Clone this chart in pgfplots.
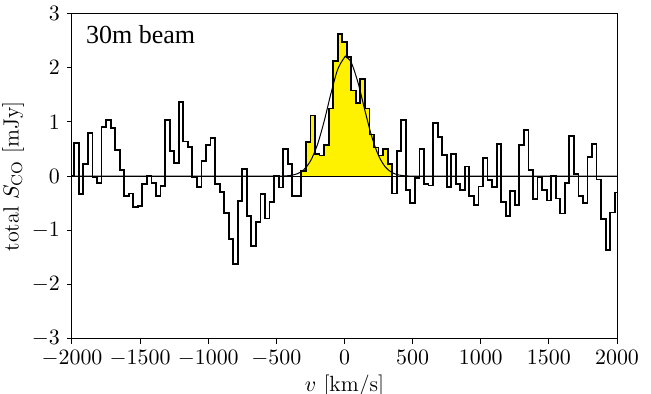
\documentclass[border=0pt]{standalone}
\usepackage{fontspec}
\newfontfamily\timesfont{Liberation Serif}
\usepackage{pgfplots}
\usepackage{pgfplotstable}
\pgfplotsset{compat=1.18}

\pgfplotstableread{
v s
-2000 0.00
-1966.7 0.61
-1933.3 -0.33
-1900 0.22
-1866.7 0.79
-1833.3 -0.02
-1800 -0.12
-1766.7 0.91
-1733.3 1.03
-1700 0.89
-1666.7 0.49
-1633.3 0.11
-1600 -0.37
-1566.7 -0.32
-1533.3 -0.57
-1500 -0.55
-1466.7 -0.15
-1433.3 0.01
-1400 -0.13
-1366.7 -0.37
-1333.3 -0.18
-1300 1.04
-1266.7 0.47
-1233.3 0.25
-1200 1.37
-1166.7 0.64
-1133.3 0.54
-1100 -0.02
-1066.7 -0.20
-1033.3 0.28
-1000 0.57
-966.7 0.71
-933.3 -0.15
-900 -0.29
-866.7 -0.68
-833.3 -1.16
-800 -1.62
-766.7 -0.46
-733.3 0.14
-700 -0.74
-666.7 -1.29
-633.3 -0.84
-600 -0.33
-566.7 -0.78
-533.3 -0.47
-500 0.00
-466.7 -0.21
-433.3 0.50
-400 0.23
-366.7 -0.36
-333.3 -0.37
-300 0.09
-266.7 0.63
-233.3 1.12
-200 0.41
-166.7 0.38
-133.3 0.57
-100 1.25
-66.7 2.13
-33.3 2.63
0 2.48
33.3 2.20
66.7 1.58
100 1.35
133.3 1.80
166.7 1.25
200 0.77
233.3 0.53
266.7 0.38
300 0.50
333.3 0.22
366.7 -0.32
400 0.46
433.3 1.03
466.7 -0.25
500 -0.49
533.3 -0.03
566.7 0.50
600 -0.15
633.3 -0.17
666.7 0.98
700 0.73
733.3 0.39
766.7 -0.20
800 0.41
833.3 -0.15
866.7 -0.25
900 0.18
933.3 -0.36
966.7 -0.53
1000 -0.19
1033.3 0.34
1066.7 -0.07
1100 -0.20
1133.3 0.59
1166.7 -0.47
1200 -0.74
1233.3 -0.28
1266.7 -0.53
1300 0.57
1333.3 0.85
1366.7 0.12
1400 -0.42
1433.3 -0.01
1466.7 -0.25
1500 -0.45
1533.3 0.01
1566.7 -0.41
1600 -0.69
1633.3 -0.12
1666.7 0.74
1700 0.04
1733.3 -0.36
1766.7 -0.50
1800 0.35
1833.3 0.60
1866.7 -0.06
1900 -0.79
1933.3 -1.36
1966.7 -0.67
2000 -0.30
}\spec

\pgfplotstableread{
v s
-316.7 0.09
-300 0.09
-266.7 0.63
-233.3 1.12
-200 0.41
-166.7 0.38
-133.3 0.57
-100 1.25
-66.7 2.13
-33.3 2.63
0 2.48
33.3 2.20
66.7 1.58
100 1.35
133.3 1.80
166.7 1.25
200 0.77
233.3 0.53
266.7 0.38
300 0.50
333.3 0.22
350 0.22
}\fillspec

\pgfplotstableread{
v g
-2000 0
-800 0
-600 0.0001
-500 0.0008
-450 0.0035
-400 0.013
-350 0.042
-300 0.117
-250 0.280
-200 0.572
-150 1.007
-100 1.521
-50 1.971
0 2.193
10 2.200
50 2.095
100 1.718
150 1.210
200 0.731
250 0.379
300 0.169
350 0.065
400 0.021
450 0.006
500 0.0015
600 0.0001
800 0
2000 0
}\gauss

\begin{document}
\begin{tikzpicture}
\begin{axis}[
  width=272.5pt, height=162.6pt, scale only axis,
  xmin=-2000, xmax=2000, ymin=-3, ymax=3,
  xtick={-2000,-1500,...,2000}, ytick={-3,-2,...,3},
  xtick pos=bottom, ytick pos=left,
  tick align=outside, major tick length=2.5pt,
  axis line style={line width=0.5pt},
  every tick/.style={black, line width=0.5pt},
  /pgf/number format/1000 sep={},
  scaled ticks=false,
  ticklabel style={font=\fontsize{11}{13}\selectfont},
  label style={font=\fontsize{11}{13}\selectfont},
  xlabel={$v$ [km/s]},
  ylabel={total $S_{\rm CO}$ [mJy]},
  xlabel style={yshift=3pt},
  ylabel style={yshift=-3pt},
]
\addplot[fill=yellow, draw=none, const plot mark mid] table[x=v, y=s] {\fillspec} \closedcycle;
\addplot[black, line width=0.5pt] coordinates {(-2000,0) (2000,0)};
\addplot[black, line width=0.5pt, smooth] table[x=v, y=g] {\gauss};
\addplot[black, line width=0.9pt, const plot mark mid] table[x=v, y=s] {\spec};
\node[anchor=north west, inner sep=0pt] at (rel axis cs:0.025,0.965) {\fontspec{Liberation Serif}\fontsize{13}{15}\selectfont 30m beam};
\end{axis}
\pgfresetboundingbox
\useasboundingbox ([xshift=-36pt,yshift=-27.5pt]current axis.south west) rectangle ([xshift=17pt,yshift=6.8pt]current axis.north east);
\end{tikzpicture}
\end{document}
